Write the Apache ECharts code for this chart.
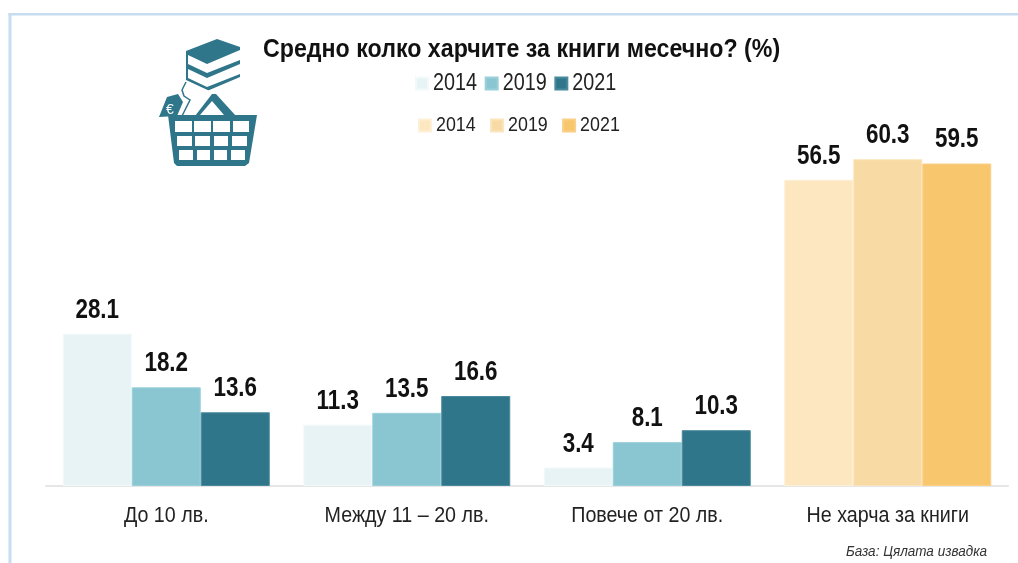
<!DOCTYPE html>
<html>
<head>
<meta charset="utf-8">
<style>html,body{margin:0;padding:0;background:#fff}#c{width:1018px;height:563px}</style>
<script src="https://cdn.jsdelivr.net/npm/echarts@6/dist/echarts.min.js"></script>
</head>
<body>
<div id="c"></div>
<script>
const categories = ['До 10 лв.', 'Между 11 – 20 лв.', 'Повече от 20 лв.', 'Не харча за книги'];
const teal2014 = [28.1, 11.3, 3.4, null];
const teal2019 = [18.2, 13.5, 8.1, null];
const teal2021 = [13.6, 16.6, 10.3, null];
const sand2014 = [null, null, null, 56.5];
const sand2019 = [null, null, null, 60.3];
const sand2021 = [null, null, null, 59.5];
const titleText = 'Средно колко харчите за книги месечно? (%)';
const sourceText = 'База: Цялата извадка';

const FONT = '"Liberation Sans",Arial,sans-serif';
const TEAL = '#30768a';
// The reference type is condensed; horizontal squeeze per font size.
const SQUEEZE = {'26px': 0.893, '27px': 0.83, '23px': 0.86, '21px': 0.85, '21.5px': 0.915, '15px': 0.9};

function bar(name, stack, data, color, border) {
  return {
    type: 'bar', name, stack, data,
    barWidth: 69, barGap: '0%',
    itemStyle: {color, borderColor: border, borderWidth: 1},
    label: {show: true, position: 'top', distance: 10, formatter: p => p.value.toFixed(1),
      fontFamily: FONT, fontWeight: 'bold', fontSize: 27, color: '#111'}
  };
}
function poly(points, fill) {
  return {type: 'polygon', shape: {points}, style: {fill}, silent: true};
}
const icon = [
  poly([[186,51],[217,39],[240,47],[240,80],[214,93],[186,80]], TEAL)
];
[0, 14, 27].forEach(d => icon.push(poly([[188,55+d],[207,64+d],[240,50+d],[240,60+d],[207,73+d],[188,64+d]], '#fff')));
icon.push(
  {type:'polyline', shape:{points:[[186,82],[182,90],[184,96],[190,100],[182,116]]}, style:{stroke:TEAL,lineWidth:1.5,fill:'none'}, silent:true},
  poly([[159,117],[167,97],[178,94],[183,102],[177,116]], TEAL),
  {type:'text', x:166, y:103, style:{text:'€', fill:'#fff', fontSize:14, fontFamily:'Liberation Sans'}, silent:true},
  poly([[195,116],[212,94],[216,94],[236,116]], TEAL),
  poly([[200,115],[212,101],[224,115]], '#fff'),
  poly([[168,115],[257,115],[249,163],[245,166],[177,166],[174,163]], TEAL)
);
[[121,132,[[175,192],[194,211],[213,230],[233,249]]],
 [136,146,[[177,192],[195,210],[214,228],[232,247]]],
 [150,160,[[179,193],[197,210],[214,227],[231,245]]]].forEach(([y0,y1,cols]) => {
  cols.forEach(([a,b]) => icon.push(poly([[a,y0],[b,y0],[b,y1],[a,y1]], '#fff')));
});

const chart = echarts.init(document.getElementById('c'));
chart.setOption({
  animation: false,
  backgroundColor: '#fff',
  title: {text: titleText, left: 258, top: 32, textStyle: {fontFamily: FONT, fontWeight: 'bold', fontSize: 26, color: '#111'}},
  grid: {left: 46, right: 10, top: 52.4, bottom: 77},
  legend: [
    {left: 410, top: 67, icon: 'rect', itemWidth: 12, itemHeight: 12, itemGap: 0.5, selectedMode: false,
     data: ['2014', '2019', '2021'],
     textStyle: {fontFamily: FONT, fontSize: 23, color: '#222'}},
    {left: 413, top: 110, icon: 'rect', itemWidth: 12, itemHeight: 12, itemGap: 1.5, selectedMode: false,
     data: ['2014 ', '2019 ', '2021 '],
     textStyle: {fontFamily: FONT, fontSize: 21, color: '#222'}}
  ],
  xAxis: {type: 'category', data: categories,
    axisLine: {lineStyle: {color: '#e6e6e6', width: 2}},
    axisTick: {show: false},
    axisLabel: {margin: 19, fontFamily: FONT, fontSize: 21.5, color: '#222', interval: 0}},
  yAxis: {type: 'value', min: 0, max: 80, show: false, splitLine: {show: false}},
  series: [
    bar('2014', 'a', teal2014, '#e8f3f6', '#f2f9fa'),
    bar('2019', 'b', teal2019, '#8ac6d2', '#9bd0da'),
    bar('2021', 'c', teal2021, '#30768a', '#4a8a9c'),
    bar('2014 ', 'a', sand2014, '#fce7c1', '#fdf0d6'),
    bar('2019 ', 'b', sand2019, '#f8dba4', '#fbe5bd'),
    bar('2021 ', 'c', sand2021, '#f8c76d', '#f9d086')
  ],
  graphic: [
    {type: 'rect', shape: {x: 8.5, y: 13, width: 3, height: 550}, style: {fill: '#c6dcf1'}, silent: true},
    {type: 'rect', shape: {x: 8.5, y: 13, width: 1010, height: 2.5}, style: {fill: '#c6dcf1'}, silent: true},
    {type: 'text', x: 846, y: 544, style: {text: sourceText, fontFamily: FONT, fontStyle: 'italic', fontSize: 15, fill: '#333'}, silent: true},
    ...icon
  ]
});

function squeezeText() {
  const zr = chart.getZr();
  zr.storage.getDisplayList(true).forEach(el => {
    if (el.type !== 'tspan' || !el.style || !el.style.font) return;
    const m = /([\d.]+px)/.exec(el.style.font);
    const k = m && SQUEEZE[m[1]];
    if (k) {
      el.originX = el.style.x;
      el.originY = el.style.y;
      el.scaleX = k;
      el.markRedraw();
    }
  });
  zr.refreshImmediately();
}
squeezeText();
</script>
</body>
</html>
